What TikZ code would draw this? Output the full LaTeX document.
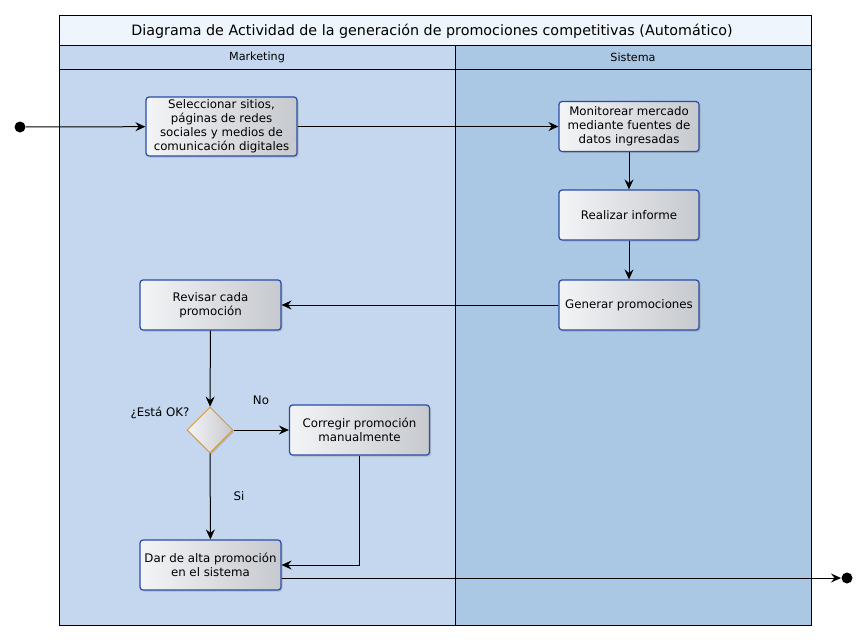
\documentclass[tikz,border=0pt]{standalone}
\usepackage{fontspec}
\setmainfont{DejaVu Sans}
\usetikzlibrary{shapes.geometric,arrows.meta,shadows}

\definecolor{lanemk}{HTML}{C4D7EE}
\definecolor{lanesis}{HTML}{AAC7E3}
\definecolor{titlebg}{HTML}{EEF5FD}
\definecolor{boxline}{HTML}{2A4CA8}
\definecolor{decline}{HTML}{D99A36}
\definecolor{boxlight}{HTML}{F3F4F6}
\definecolor{boxdark}{HTML}{C6C9CE}

\begin{document}
\begin{tikzpicture}[x=1pt,y=-1pt,line width=1pt,
  act/.style={draw=boxline,line width=1.2pt,rounded corners=3pt,
    left color=boxlight,right color=boxdark,minimum width=140pt,
    minimum height=50pt,inner sep=2pt,align=center,
    font=\fontsize{11.8}{14}\selectfont,
    drop shadow={shadow xshift=1.5pt,shadow yshift=-1.5pt,opacity=0.35}},
  decision/.style={diamond,draw=decline,left color=boxlight,
    right color=boxdark,minimum width=46pt,minimum height=46pt,
    inner sep=0pt,drop shadow={shadow xshift=1.5pt,shadow yshift=-1.5pt,
    opacity=0.35}},
  dot/.style={circle,fill=black,minimum size=11pt,inner sep=0pt},
  flow/.style={-{Stealth[length=10pt,width=9pt,inset=3.5pt]}},
  txt/.style={font=\fontsize{11.8}{14}\selectfont}]

  \useasboundingbox (0,0) rectangle (868,641);

  % swimlanes
  \fill[titlebg] (59,15) rectangle (811,45);
  \fill[lanemk] (59,45) rectangle (455,625);
  \fill[lanesis] (455,45) rectangle (811,625);
  \draw (59,15) rectangle (811,625);
  \draw (59,45) -- (811,45);
  \draw (59,69) -- (811,69);
  \draw (455,45) -- (455,625);

  \node (title) at (432,31) {\fontsize{14.3}{17}\selectfont Diagrama de
    Actividad de la generación de promociones competitivas (Automático)};
  \node[font=\fontsize{11.2}{13}\selectfont] (mk) at (257,57) {Marketing};
  \node[font=\fontsize{11.2}{13}\selectfont] (sis) at (633,57) {Sistema};

  % actions
  \node[dot] (start) at (20,127) {};
  \node[act,minimum width=151pt,minimum height=59pt] (sel) at (221.5,126.5)
    {Seleccionar sitios,\\ páginas de redes\\ sociales y medios de\\
     comunicación digitales};
  \node[act] (mon) at (629,126.5)
    {Monitorear mercado\\ mediante fuentes de\\ datos ingresadas};
  \node[act] (inf) at (629,215) {Realizar informe};
  \node[act] (gen) at (629,305) {Generar promociones};
  \node[act,minimum width=141pt] (rev) at (210.5,305)
    {Revisar cada\\ promoción};
  \node[decision] (dec) at (210,430) {};
  \node[act] (cor) at (359.5,430) {Corregir promoción\\ manualmente};
  \node[act,minimum width=141pt] (alta) at (210.5,565)
    {Dar de alta promoción\\ en el sistema};
  \node[dot] (fin) at (847,578) {};

  \node[txt] (ok) at (160,413) {¿Está OK?};
  \node[txt] (no) at (261,400) {No};
  \node[txt] (si) at (239,496) {Si};

  % flows
  \draw[flow] (start) -- (sel);
  \draw[flow] (sel) -- (mon);
  \draw[flow] (mon) -- (inf);
  \draw[flow] (inf) -- (gen);
  \draw[flow] (gen) -- (rev);
  \draw[flow] (rev) -- (dec);
  \draw[flow] (dec) -- (cor);
  \draw[flow] (dec) -- (alta);
  \draw[flow] (cor.south) |- (alta.east);
  \draw[flow] (alta.east |- fin) -- (fin);
\end{tikzpicture}
\end{document}
